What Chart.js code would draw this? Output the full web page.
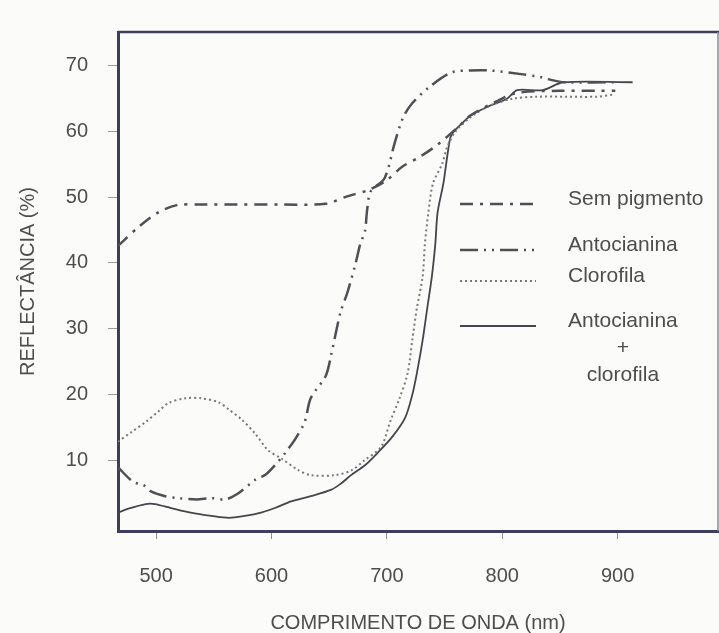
<!DOCTYPE html>
<html>
<head>
<meta charset="utf-8">
<script src="https://cdn.jsdelivr.net/npm/chart.js@4.4.1/dist/chart.umd.min.js"></script>
<style>
    html, body { margin: 0; padding: 0; background: #fbfbf9; }
    #wrap { width: 719px; height: 633px; }
</style>
</head>
<body>
<div id="wrap"><canvas id="reflectancia" width="719" height="633"></canvas></div>
<script>
// Eixos
const xTicks = [500, 600, 700, 800, 900];
const yTicks = [10, 20, 30, 40, 50, 60, 70];

// Sem pigmento
const semPigmentoNm  = [467, 485, 502, 518, 537, 571, 608, 647, 665, 684, 700, 713, 729, 744, 763, 772, 795, 813, 850, 885, 898];
const semPigmentoVal = [42.6, 45.5, 47.7, 48.8, 48.9, 48.9, 48.9, 49.0, 50.1, 51.1, 52.6, 54.6, 56.2, 58.0, 60.9, 62.4, 64.6, 65.9, 66.2, 66.2, 66.2];

// Antocianina
const antocianinaNm  = [467, 480, 489, 496, 508, 519, 535, 548, 560, 571, 586, 595, 603, 612, 621, 629, 634, 647, 652, 655, 660, 666, 673, 677, 681, 683, 686, 698, 707, 714, 722, 737, 756, 772, 789, 818, 833, 839, 854, 898];
const antocianinaVal = [8.9, 6.7, 6.2, 5.2, 4.5, 4.2, 4.0, 4.2, 4.0, 4.9, 7.0, 7.8, 9.2, 11.1, 13.3, 15.9, 19.4, 22.8, 26.2, 28.7, 32.6, 35.6, 40.0, 42.9, 44.8, 48.2, 50.9, 52.9, 58.4, 62.1, 64.3, 66.8, 69.0, 69.3, 69.3, 68.7, 68.3, 68.0, 67.5, 67.5];

// Clorofila
const clorofilaNm  = [467, 479, 491, 502, 511, 525, 539, 554, 563, 574, 586, 597, 608, 623, 634, 655, 669, 681, 695, 703, 711, 718, 722, 726, 731, 733, 736, 740, 748, 752, 759, 772, 789, 809, 830, 856, 882, 896];
const clorofilaVal = [12.8, 14.3, 15.8, 17.4, 18.7, 19.4, 19.4, 18.8, 17.7, 16.2, 14.0, 11.5, 10.3, 8.5, 7.7, 7.7, 8.4, 10.0, 12.0, 15.9, 19.4, 23.2, 28.2, 33.1, 37.9, 42.9, 47.7, 52.1, 55.1, 57.5, 59.9, 62.1, 63.9, 65.0, 65.3, 65.3, 65.3, 65.6];

// Antocianina + clorofila
const mistoNm  = [467, 476, 491, 499, 513, 530, 548, 563, 577, 591, 603, 617, 634, 652, 660, 669, 681, 692, 705, 716, 722, 726, 731, 735, 739, 742, 744, 749, 753, 756, 766, 775, 789, 804, 813, 835, 853, 913];
const mistoVal = [2.0, 2.6, 3.3, 3.3, 2.7, 2.0, 1.5, 1.2, 1.5, 2.0, 2.7, 3.7, 4.5, 5.5, 6.4, 7.7, 9.2, 11.1, 13.6, 16.5, 19.9, 23.2, 28.2, 33.1, 37.9, 42.9, 47.7, 52.1, 57.0, 59.5, 61.4, 62.7, 63.9, 65.0, 66.3, 66.3, 67.5, 67.5];

const legendLabels = ['Sem pigmento', 'Antocianina', 'Clorofila', ['Antocianina', '+', 'clorofila']];

const FONT = '"Liberation Sans", Arial, sans-serif';
const TEXT_COLOR = '#4d4d4d';

function toPoints(xs, ys) {
    return xs.map((x, i) => ({ x: x, y: ys[i] }));
}

// Moldura superior e direita do gráfico
const framePlugin = {
    id: 'moldura',
    afterDraw(chart) {
        const { ctx, chartArea: a } = chart;
        ctx.save();
        ctx.strokeStyle = '#3d3d5c';
        ctx.lineWidth = 2.5;
        ctx.beginPath();
        ctx.moveTo(a.left, a.top);
        ctx.lineTo(chart.width, a.top);
        ctx.stroke();
        ctx.strokeStyle = '#8a8a96';
        ctx.lineWidth = 1.5;
        ctx.beginPath();
        ctx.moveTo(a.right, a.top);
        ctx.lineTo(a.right, a.bottom);
        ctx.stroke();
        ctx.restore();
    }
};

// Legenda dentro da área do gráfico
const legendPlugin = {
    id: 'legendaInterna',
    afterDatasetsDraw(chart) {
        const ctx = chart.ctx;
        const rows = [204, 250, 281, 326];
        ctx.save();
        ctx.font = '21px ' + FONT;
        ctx.fillStyle = TEXT_COLOR;
        ctx.textBaseline = 'middle';
        chart.data.datasets.forEach((ds, i) => {
            const y = rows[i];
            ctx.save();
            ctx.strokeStyle = ds.borderColor;
            ctx.lineWidth = ds.borderWidth;
            ctx.setLineDash(ds.borderDash || []);
            ctx.beginPath();
            ctx.moveTo(460, y);
            ctx.lineTo(536, y);
            ctx.stroke();
            ctx.restore();

            const lines = [].concat(legendLabels[i]);
            ctx.textAlign = 'left';
            ctx.fillText(lines[0], 568, y - 5);
            const center = 568 + ctx.measureText(lines[0]).width / 2;
            ctx.textAlign = 'center';
            lines.slice(1).forEach((t, k) => {
                ctx.fillText(t, center, y + 22 + k * 27);
            });
        });
        ctx.restore();
    }
};

const baseDataset = {
    pointRadius: 0,
    fill: false,
    tension: 0.3
};

new Chart(document.getElementById('reflectancia'), {
    type: 'line',
    data: {
        datasets: [
            { ...baseDataset, label: 'Sem pigmento', data: toPoints(semPigmentoNm, semPigmentoVal),
              borderColor: '#4f4f55', borderWidth: 2.5, borderDash: [13, 7, 3, 7] },
            { ...baseDataset, label: 'Antocianina', data: toPoints(antocianinaNm, antocianinaVal),
              borderColor: '#4f4f55', borderWidth: 2.5, borderDash: [18, 6, 2, 6, 2, 6] },
            { ...baseDataset, label: 'Clorofila', data: toPoints(clorofilaNm, clorofilaVal),
              borderColor: '#77777d', borderWidth: 2, borderDash: [2, 3] },
            { ...baseDataset, label: 'Antocianina + clorofila', data: toPoints(mistoNm, mistoVal),
              borderColor: '#45454c', borderWidth: 1.8 }
        ]
    },
    options: {
        responsive: false,
        animation: false,
        layout: { padding: { top: 13, right: 1, left: 0, bottom: 0 } },
        plugins: {
            legend: { display: false },
            tooltip: { enabled: false }
        },
        scales: {
            x: {
                type: 'linear',
                min: 467,
                max: 987,
                afterBuildTicks: s => { s.ticks = xTicks.map(v => ({ value: v })); },
                afterFit: s => { s.height = 102; },
                ticks: { font: { family: FONT, size: 20 }, color: TEXT_COLOR, padding: 25, maxRotation: 0 },
                grid: { drawOnChartArea: false, drawTicks: true, tickLength: 8, color: '#8a8a8a' },
                border: { color: '#3d3d5c', width: 3 },
                title: {
                    display: true,
                    text: 'COMPRIMENTO DE ONDA (nm)',
                    font: { family: FONT, size: 20, lineHeight: 1.0 },
                    color: TEXT_COLOR,
                    padding: { top: 0, bottom: 0 }
                }
            },
            y: {
                min: -0.8,
                max: 75.15,
                afterBuildTicks: s => { s.ticks = yTicks.map(v => ({ value: v })); },
                afterFit: s => { s.width = 118; },
                ticks: { font: { family: FONT, size: 20 }, color: TEXT_COLOR, padding: 20 },
                grid: { drawOnChartArea: false, drawTicks: true, tickLength: 10, color: '#9a9a9a' },
                border: { color: '#3d3d5c', width: 3 },
                title: {
                    display: true,
                    text: 'REFLECTÂNCIA (%)',
                    font: { family: FONT, size: 20, lineHeight: 1.2 },
                    color: TEXT_COLOR,
                    padding: { top: 16, bottom: 0 }
                }
            }
        }
    },
    plugins: [framePlugin, legendPlugin]
});
</script>
</body>
</html>
